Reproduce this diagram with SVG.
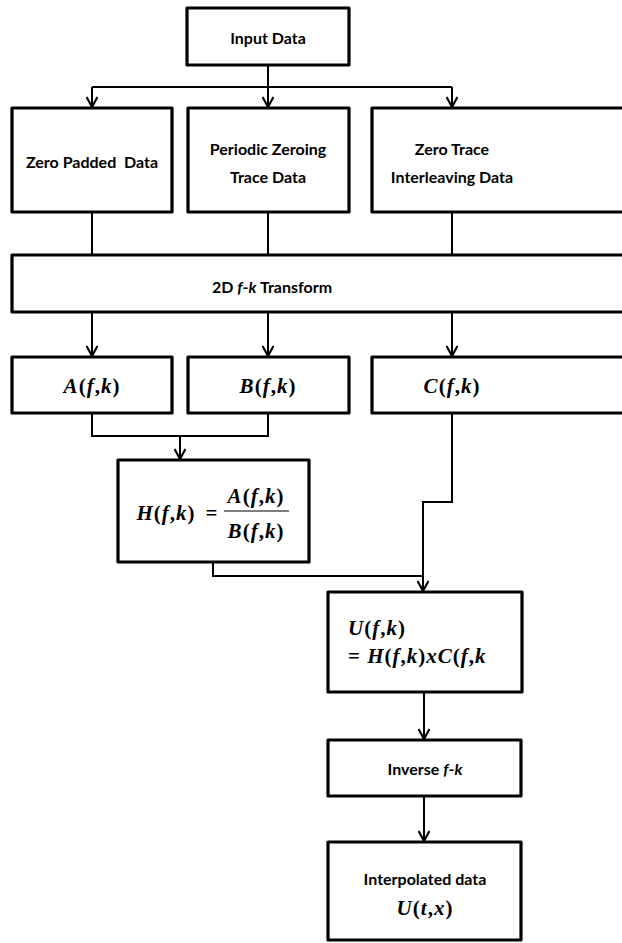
<svg xmlns="http://www.w3.org/2000/svg" width="622" height="943" viewBox="0 0 622 943">
<defs>
<marker id="arr" viewBox="0 0 12 12" refX="11" refY="6" markerWidth="12" markerHeight="12" markerUnits="userSpaceOnUse" orient="auto">
<path d="M1,0.5 L11,6 L1,11.5" fill="none" stroke="#000" stroke-width="2.2"/>
</marker>
</defs>
<style>
.box{fill:#fff;stroke:#000;stroke-width:3.2;stroke-linejoin:round}
.con{fill:none;stroke:#000;stroke-width:2}
.lbl{font-family:Lato,"Open Sans",sans-serif;font-weight:bold;font-size:16px;fill:#000;text-anchor:middle}
.m{font-family:"Liberation Serif",serif;font-weight:bold;font-style:italic;font-size:21px;letter-spacing:1px;fill:#000}
.up{font-style:normal}
</style>
<rect width="622" height="943" fill="#fff"/>
<g id="connectors">
<path class="con" d="M268,65 V87 M92,87 H452"/>
<path class="con" d="M92,87 V107" marker-end="url(#arr)"/>
<path class="con" d="M268,87 V107" marker-end="url(#arr)"/>
<path class="con" d="M452,87 V107" marker-end="url(#arr)"/>
<path class="con" d="M92,212 V255 M268,212 V255 M452,212 V255"/>
<path class="con" d="M92,312 V356" marker-end="url(#arr)"/>
<path class="con" d="M268,312 V356" marker-end="url(#arr)"/>
<path class="con" d="M452,312 V356" marker-end="url(#arr)"/>
<path class="con" d="M92,413 V436 H268 V413"/>
<path class="con" d="M180,436 V459" marker-end="url(#arr)"/>
<path class="con" d="M452,413 V502 H423 V591" marker-end="url(#arr)"/>
<path class="con" d="M213,562 V576 H423"/>
<path class="con" d="M424,692 V739" marker-end="url(#arr)"/>
<path class="con" d="M424,796 V841" marker-end="url(#arr)"/>
</g>
<g id="input">
<rect class="box" x="187" y="8" width="162" height="57"/>
<text class="lbl" x="268" y="44">Input Data</text>
</g>
<g id="zeropadded">
<rect class="box" x="12" y="108" width="160" height="104"/>
<text class="lbl" x="92" y="168" xml:space="preserve">Zero Padded  Data</text>
</g>
<g id="periodic">
<rect class="box" x="188" y="108" width="161" height="104"/>
<text class="lbl" x="268" y="155">Periodic Zeroing</text>
<text class="lbl" x="268" y="183">Trace Data</text>
</g>
<g id="interleaving">
<rect class="box" x="372" y="108" width="260" height="104"/>
<text class="lbl" x="452" y="155">Zero Trace</text>
<text class="lbl" x="452" y="183">Interleaving Data</text>
</g>
<g id="transform">
<rect class="box" x="12" y="255" width="620" height="57"/>
<text class="lbl" x="272" y="293">2D <tspan font-style="italic">f</tspan>-<tspan font-style="italic">k</tspan> Transform</text>
</g>
<g id="A">
<rect class="box" x="12" y="357" width="160" height="56"/>
<text class="m" x="92" y="393" text-anchor="middle">A<tspan class="up">(</tspan>f<tspan class="up">,</tspan>k<tspan class="up">)</tspan></text>
</g>
<g id="B">
<rect class="box" x="188" y="357" width="161" height="56"/>
<text class="m" x="268" y="393" text-anchor="middle">B<tspan class="up">(</tspan>f<tspan class="up">,</tspan>k<tspan class="up">)</tspan></text>
</g>
<g id="C">
<rect class="box" x="372" y="357" width="260" height="56"/>
<text class="m" x="452" y="393" text-anchor="middle">C<tspan class="up">(</tspan>f<tspan class="up">,</tspan>k<tspan class="up">)</tspan></text>
</g>
<g id="H">
<rect class="box" x="118" y="460" width="191" height="102"/>
<text class="m" x="166" y="520" text-anchor="middle">H<tspan class="up">(</tspan>f<tspan class="up">,</tspan>k<tspan class="up">)</tspan></text>
<text class="m up" x="212" y="520" text-anchor="middle">=</text>
<text class="m" x="256" y="503" text-anchor="middle">A<tspan class="up">(</tspan>f<tspan class="up">,</tspan>k<tspan class="up">)</tspan></text>
<line x1="224" y1="511" x2="289" y2="511" stroke="#000" stroke-width="1.2"/>
<text class="m" x="256" y="538" text-anchor="middle">B<tspan class="up">(</tspan>f<tspan class="up">,</tspan>k<tspan class="up">)</tspan></text>
</g>
<g id="U">
<rect class="box" x="328" y="592" width="194" height="100"/>
<text class="m" x="348" y="635">U<tspan class="up">(</tspan>f<tspan class="up">,</tspan>k<tspan class="up">)</tspan></text>
<text class="m" x="348" y="663"><tspan class="up">= </tspan>H<tspan class="up">(</tspan>f<tspan class="up">,</tspan>k<tspan class="up">)</tspan>xC<tspan class="up">(</tspan>f<tspan class="up">,</tspan>k</text>
</g>
<g id="inverse">
<rect class="box" x="328" y="740" width="193" height="56"/>
<text class="lbl" x="425" y="775">Inverse <tspan font-style="italic">f</tspan>-<tspan font-style="italic">k</tspan></text>
</g>
<g id="interp">
<rect class="box" x="328" y="842" width="193" height="98"/>
<text class="lbl" x="425" y="885">Interpolated data</text>
<text class="m" x="425" y="915" text-anchor="middle">U<tspan class="up">(</tspan>t<tspan class="up">,</tspan>x<tspan class="up">)</tspan></text>
</g>
</svg>
